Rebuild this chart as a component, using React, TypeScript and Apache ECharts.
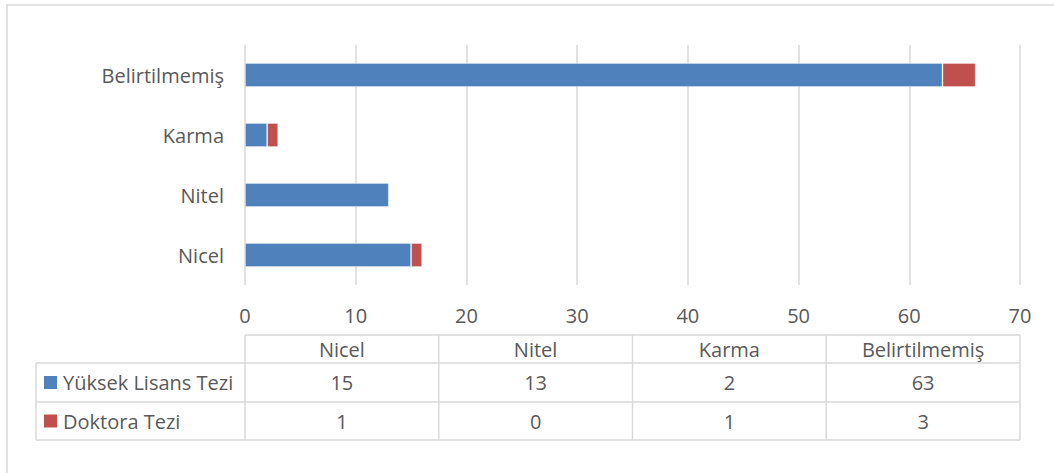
import React, { useEffect, useRef } from "react";
import * as echarts from "echarts";

const categories = ["Nicel", "Nitel", "Karma", "Belirtilmemiş"];
const seriesNames = ["Yüksek Lisans Tezi", "Doktora Tezi"];
const yuksekLisans = [15, 13, 2, 63];
const doktora = [1, 0, 1, 3];
const colors = ["#4F81BD", "#C0504D"];

const W = 1054;
const H = 473;
const FONT = "'Open Sans', 'Noto Sans', sans-serif";
const FS = 20;
const TXT = "#595959";
const LINE = "#D9D9D9";

export default function App() {
  const ref = useRef<HTMLDivElement>(null);
  useEffect(() => {
    if (!ref.current) return;
    const chart = echarts.init(ref.current, undefined, { renderer: "svg" });

    const plotL = 245;
    const plotR = 1020;
    const tableL = 36;
    const headTop = 335;
    const rowTops = [363, 402, 440];
    const colW = (plotR - plotL) / categories.length;
    const colX = categories.map((_, i) => plotL + i * colW).concat([plotR]);
    const lineStyle = { stroke: LINE, lineWidth: 1.5 };
    const g: any[] = [];

    // outer frame
    g.push({
      type: "rect",
      shape: { x: 7, y: 5, width: 1100, height: 500 },
      style: { fill: "none", stroke: LINE, lineWidth: 1.5 },
      silent: true,
      z: -1,
    });
    // table lines
    g.push({ type: "line", shape: { x1: plotL, y1: headTop, x2: plotR, y2: headTop }, style: lineStyle });
    rowTops.forEach((y) =>
      g.push({ type: "line", shape: { x1: tableL, y1: y, x2: plotR, y2: y }, style: lineStyle })
    );
    colX.forEach((x) =>
      g.push({ type: "line", shape: { x1: x, y1: headTop, x2: x, y2: rowTops[2] }, style: lineStyle })
    );
    g.push({ type: "line", shape: { x1: tableL, y1: rowTops[0], x2: tableL, y2: rowTops[2] }, style: lineStyle });

    const textStyle = (text: string, x: number, y: number, align = "center") => ({
      type: "text",
      style: {
        text,
        x,
        y,
        align,
        verticalAlign: "middle",
        fontSize: FS,
        fontFamily: FONT,
        fill: TXT,
      },
    });
    // header
    categories.forEach((c, i) => g.push(textStyle(c, colX[i] + colW / 2, (headTop + rowTops[0]) / 2)));
    const rows = [yuksekLisans, doktora];
    rows.forEach((vals, r) => {
      const cy = (rowTops[r] + (r === 0 ? rowTops[1] : rowTops[2])) / 2;
      g.push({
        type: "rect",
        shape: { x: 44, y: cy - 6.5, width: 13, height: 13 },
        style: { fill: colors[r] },
      });
      g.push(textStyle(seriesNames[r], 63, cy, "left"));
      vals.forEach((v, i) => g.push(textStyle(String(v), colX[i] + colW / 2, cy)));
    });

    chart.setOption({
      animation: false,
      grid: { left: plotL, right: W - plotR, top: 45, bottom: H - 285, containLabel: false },
      xAxis: {
        type: "value",
        min: 0,
        max: 70,
        interval: 10,
        axisLine: { show: false },
        axisTick: { show: false },
        splitLine: { show: true, lineStyle: { color: LINE, width: 1.5 } },
        axisLabel: { color: TXT, fontSize: FS, fontFamily: FONT, margin: 20, showMaxLabel: true },
      },
      yAxis: {
        type: "category",
        data: categories,
        axisLine: { show: false },
        axisTick: { show: false },
        axisLabel: { color: TXT, fontSize: FS, fontFamily: FONT, margin: 21 },
      },
      series: [
        {
          name: seriesNames[0],
          type: "bar",
          stack: "total",
          data: yuksekLisans,
          barWidth: "40%",
          itemStyle: { color: colors[0], borderColor: "rgba(255,255,255,0.3)", borderWidth: 1 },
        },
        {
          name: seriesNames[1],
          type: "bar",
          stack: "total",
          data: doktora,
          barWidth: "40%",
          itemStyle: { color: colors[1], borderColor: "rgba(255,255,255,0.3)", borderWidth: 1 },
        },
      ],
      graphic: g,
    });
    return () => chart.dispose();
  }, []);
  return (
    <div
      ref={ref}
      style={{ position: "fixed", left: 0, top: 0, width: W, height: H, background: "#fff" }}
    />
  );
}
